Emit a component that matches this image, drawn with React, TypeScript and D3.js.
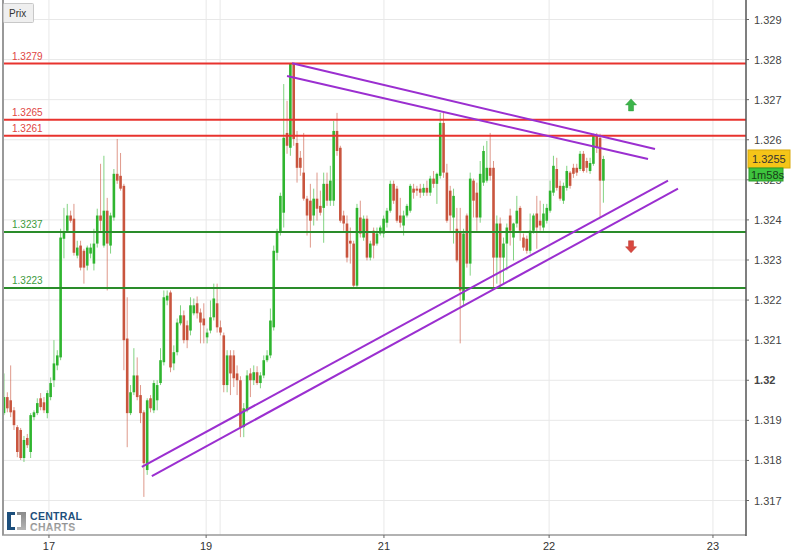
import React from 'react';
import * as d3 from 'd3';

const W = 806;
const H = 555;

// [open, high, low, close]
const candles: [number, number, number, number][] = [
  [1.31918, 1.32017, 1.31913, 1.31958],
  [1.31958, 1.31970, 1.31920, 1.31930],
  [1.31950, 1.32037, 1.31908, 1.31920],
  [1.31925, 1.31933, 1.31876, 1.31888],
  [1.31883, 1.31888, 1.31808, 1.31821],
  [1.31876, 1.31881, 1.31801, 1.31806],
  [1.31806, 1.31861, 1.31796, 1.31851],
  [1.31856, 1.31866, 1.31831, 1.31838],
  [1.31821, 1.31918, 1.31806, 1.31913],
  [1.31908, 1.31925, 1.31900, 1.31920],
  [1.31918, 1.31955, 1.31913, 1.31943],
  [1.31955, 1.31968, 1.31925, 1.31933],
  [1.31945, 1.31958, 1.31918, 1.31925],
  [1.31918, 1.31975, 1.31905, 1.31968],
  [1.31958, 1.32007, 1.31950, 1.31993],
  [1.32000, 1.32100, 1.31983, 1.32042],
  [1.32037, 1.32075, 1.32025, 1.32062],
  [1.32057, 1.32378, 1.32050, 1.32356],
  [1.32353, 1.32430, 1.32304, 1.32371],
  [1.32373, 1.32440, 1.32368, 1.32411],
  [1.32411, 1.32423, 1.32393, 1.32398],
  [1.32403, 1.32440, 1.32311, 1.32318],
  [1.32311, 1.32348, 1.32304, 1.32331],
  [1.32336, 1.32348, 1.32274, 1.32281],
  [1.32323, 1.32328, 1.32241, 1.32281],
  [1.32286, 1.32336, 1.32274, 1.32331],
  [1.32316, 1.32341, 1.32304, 1.32331],
  [1.32291, 1.32378, 1.32274, 1.32341],
  [1.32341, 1.32428, 1.32331, 1.32411],
  [1.32411, 1.32540, 1.32373, 1.32398],
  [1.32336, 1.32560, 1.32331, 1.32423],
  [1.32423, 1.32455, 1.32224, 1.32341],
  [1.32336, 1.32418, 1.32316, 1.32411],
  [1.32406, 1.32527, 1.32398, 1.32515],
  [1.32515, 1.32602, 1.32490, 1.32498],
  [1.32510, 1.32567, 1.32473, 1.32478],
  [1.32485, 1.32490, 1.32025, 1.32100],
  [1.32104, 1.32207, 1.31833, 1.31918],
  [1.31918, 1.31988, 1.31913, 1.31970],
  [1.31970, 1.32080, 1.31963, 1.32012],
  [1.32012, 1.32057, 1.31950, 1.31958],
  [1.31963, 1.31988, 1.31893, 1.31918],
  [1.31920, 1.31925, 1.31709, 1.31793],
  [1.31776, 1.31955, 1.31764, 1.31950],
  [1.31955, 1.31963, 1.31920, 1.31930],
  [1.31925, 1.32000, 1.31918, 1.31993],
  [1.31950, 1.32000, 1.31925, 1.31988],
  [1.31993, 1.32080, 1.31988, 1.32050],
  [1.32045, 1.32224, 1.32037, 1.32207],
  [1.32199, 1.32224, 1.32187, 1.32211],
  [1.32219, 1.32224, 1.32020, 1.32032],
  [1.32042, 1.32087, 1.32025, 1.32070],
  [1.32070, 1.32154, 1.32062, 1.32144],
  [1.32142, 1.32187, 1.32137, 1.32162],
  [1.32162, 1.32174, 1.32092, 1.32100],
  [1.32137, 1.32149, 1.32080, 1.32100],
  [1.32124, 1.32207, 1.32112, 1.32187],
  [1.32167, 1.32204, 1.32162, 1.32187],
  [1.32192, 1.32209, 1.32154, 1.32167],
  [1.32169, 1.32179, 1.32092, 1.32144],
  [1.32154, 1.32192, 1.32092, 1.32137],
  [1.32107, 1.32129, 1.32092, 1.32119],
  [1.32124, 1.32199, 1.32117, 1.32157],
  [1.32157, 1.32241, 1.32149, 1.32204],
  [1.32192, 1.32241, 1.32119, 1.32132],
  [1.32132, 1.32149, 1.32112, 1.32119],
  [1.32112, 1.32119, 1.31970, 1.31988],
  [1.31988, 1.32075, 1.31970, 1.32062],
  [1.32062, 1.32075, 1.31963, 1.32017],
  [1.32062, 1.32075, 1.31983, 1.32005],
  [1.32017, 1.32037, 1.31963, 1.32000],
  [1.32000, 1.32010, 1.31858, 1.31883],
  [1.31883, 1.31943, 1.31858, 1.31930],
  [1.31925, 1.32025, 1.31920, 1.32012],
  [1.32017, 1.32030, 1.31958, 1.32000],
  [1.32000, 1.32037, 1.31988, 1.32020],
  [1.32020, 1.32035, 1.31988, 1.31993],
  [1.31993, 1.32020, 1.31980, 1.32012],
  [1.32012, 1.32062, 1.32005, 1.32050],
  [1.32050, 1.32075, 1.32045, 1.32062],
  [1.32062, 1.32179, 1.32055, 1.32149],
  [1.32132, 1.32336, 1.32124, 1.32323],
  [1.32318, 1.32378, 1.32299, 1.32368],
  [1.32368, 1.32468, 1.32361, 1.32460],
  [1.32418, 1.32739, 1.32381, 1.32605],
  [1.32617, 1.32697, 1.32565, 1.32585],
  [1.32580, 1.32791, 1.32560, 1.32789],
  [1.32789, 1.32791, 1.32585, 1.32602],
  [1.32592, 1.32622, 1.32493, 1.32530],
  [1.32555, 1.32572, 1.32510, 1.32530],
  [1.32518, 1.32617, 1.32448, 1.32453],
  [1.32453, 1.32460, 1.32361, 1.32411],
  [1.32448, 1.32490, 1.32331, 1.32398],
  [1.32411, 1.32478, 1.32386, 1.32453],
  [1.32453, 1.32518, 1.32398, 1.32428],
  [1.32435, 1.32473, 1.32411, 1.32418],
  [1.32430, 1.32518, 1.32343, 1.32490],
  [1.32490, 1.32518, 1.32435, 1.32448],
  [1.32448, 1.32535, 1.32435, 1.32498],
  [1.32448, 1.32647, 1.32435, 1.32622],
  [1.32622, 1.32667, 1.32560, 1.32572],
  [1.32580, 1.32585, 1.32393, 1.32398],
  [1.32411, 1.32423, 1.32373, 1.32391],
  [1.32391, 1.32411, 1.32294, 1.32306],
  [1.32348, 1.32381, 1.32291, 1.32341],
  [1.32341, 1.32348, 1.32231, 1.32236],
  [1.32236, 1.32440, 1.32231, 1.32430],
  [1.32406, 1.32448, 1.32356, 1.32366],
  [1.32356, 1.32411, 1.32348, 1.32403],
  [1.32403, 1.32411, 1.32299, 1.32306],
  [1.32306, 1.32348, 1.32299, 1.32341],
  [1.32373, 1.32381, 1.32304, 1.32336],
  [1.32341, 1.32381, 1.32336, 1.32366],
  [1.32366, 1.32386, 1.32361, 1.32381],
  [1.32366, 1.32411, 1.32356, 1.32403],
  [1.32393, 1.32430, 1.32381, 1.32423],
  [1.32423, 1.32498, 1.32418, 1.32490],
  [1.32490, 1.32498, 1.32440, 1.32448],
  [1.32478, 1.32485, 1.32393, 1.32398],
  [1.32411, 1.32455, 1.32381, 1.32393],
  [1.32386, 1.32423, 1.32361, 1.32411],
  [1.32411, 1.32440, 1.32406, 1.32435],
  [1.32423, 1.32490, 1.32418, 1.32485],
  [1.32478, 1.32490, 1.32453, 1.32468],
  [1.32478, 1.32485, 1.32460, 1.32473],
  [1.32478, 1.32490, 1.32455, 1.32468],
  [1.32468, 1.32490, 1.32460, 1.32480],
  [1.32480, 1.32498, 1.32460, 1.32468],
  [1.32468, 1.32510, 1.32460, 1.32503],
  [1.32503, 1.32522, 1.32480, 1.32490],
  [1.32490, 1.32518, 1.32440, 1.32515],
  [1.32510, 1.32667, 1.32503, 1.32642],
  [1.32642, 1.32667, 1.32505, 1.32518],
  [1.32518, 1.32540, 1.32393, 1.32398],
  [1.32473, 1.32485, 1.32373, 1.32411],
  [1.32406, 1.32478, 1.32341, 1.32460],
  [1.32378, 1.32430, 1.32294, 1.32299],
  [1.32368, 1.32430, 1.32092, 1.32224],
  [1.32199, 1.32378, 1.32187, 1.32366],
  [1.32411, 1.32416, 1.32281, 1.32291],
  [1.32291, 1.32518, 1.32261, 1.32503],
  [1.32498, 1.32503, 1.32406, 1.32448],
  [1.32468, 1.32493, 1.32373, 1.32406],
  [1.32406, 1.32547, 1.32393, 1.32515],
  [1.32493, 1.32585, 1.32485, 1.32572],
  [1.32498, 1.32597, 1.32493, 1.32530],
  [1.32530, 1.32617, 1.32498, 1.32510],
  [1.32530, 1.32547, 1.32231, 1.32306],
  [1.32306, 1.32411, 1.32241, 1.32391],
  [1.32391, 1.32406, 1.32231, 1.32306],
  [1.32306, 1.32356, 1.32241, 1.32341],
  [1.32341, 1.32391, 1.32274, 1.32381],
  [1.32411, 1.32428, 1.32336, 1.32373],
  [1.32356, 1.32393, 1.32299, 1.32391],
  [1.32391, 1.32460, 1.32381, 1.32423],
  [1.32430, 1.32435, 1.32348, 1.32373],
  [1.32356, 1.32366, 1.32323, 1.32331],
  [1.32353, 1.32361, 1.32316, 1.32323],
  [1.32323, 1.32416, 1.32316, 1.32373],
  [1.32373, 1.32416, 1.32366, 1.32411],
  [1.32416, 1.32460, 1.32328, 1.32381],
  [1.32398, 1.32448, 1.32373, 1.32386],
  [1.32381, 1.32440, 1.32373, 1.32416],
  [1.32398, 1.32440, 1.32391, 1.32430],
  [1.32423, 1.32498, 1.32418, 1.32473],
  [1.32468, 1.32560, 1.32460, 1.32535],
  [1.32527, 1.32555, 1.32473, 1.32480],
  [1.32485, 1.32498, 1.32448, 1.32453],
  [1.32448, 1.32493, 1.32440, 1.32485],
  [1.32480, 1.32535, 1.32473, 1.32522],
  [1.32518, 1.32522, 1.32478, 1.32485],
  [1.32530, 1.32540, 1.32505, 1.32515],
  [1.32530, 1.32540, 1.32510, 1.32518],
  [1.32527, 1.32572, 1.32522, 1.32565],
  [1.32565, 1.32572, 1.32518, 1.32522],
  [1.32547, 1.32555, 1.32518, 1.32530],
  [1.32522, 1.32555, 1.32515, 1.32542],
  [1.32540, 1.32615, 1.32535, 1.32610],
  [1.32610, 1.32617, 1.32567, 1.32580],
  [1.32605, 1.32615, 1.32406, 1.32498],
  [1.32498, 1.32560, 1.32443, 1.32552],
];

const yTickValues = [1.317, 1.318, 1.319, 1.32, 1.321, 1.322, 1.323, 1.324, 1.325, 1.326, 1.327, 1.328, 1.329];
const xTickLabels = ['17', '19', '21', '22', '23'];
const xTickIndex = [13.5, 60.7, 114.1, 163.7, 212.9];
const extraGridIndex = [64.9];

const resistanceLevels = [1.3279, 1.3265, 1.3261];
const supportLevels = [1.3237, 1.3223];

// trend lines: [[index, price], [index, price]]
const trendLines: [number, number][][] = [
  [[86.5, 1.32791], [195.5, 1.32577]],
  [[85.0, 1.32759], [193.4, 1.32552]],
  [[41.4, 1.31784], [199.4, 1.32498]],
  [[44.4, 1.31761], [202.4, 1.32478]],
];

const upArrow: [number, number] = [188.3, 1.32687];
const downArrow: [number, number] = [188.3, 1.32333];
const lastPriceLabel = '1.3255';
const countdownLabel = '1m58s';

const FONT = '"Liberation Sans", Arial, sans-serif';

export default function App() {
  const x = d3.scaleLinear().domain([0, 180]).range([4, 603.4]);
  const y = d3.scaleLinear().domain([1.317, 1.329]).range([500.5, 19.5]);
  const plotRight = 746;
  const plotBottom = 535;
  const plotLeft = 3;
  const bodyW = 2.6;
  const green = '#2fb52f';
  const red = '#c9553e';
  const last = candles[candles.length - 1][3];
  const lastY = y(last);
  const line = d3.line<[number, number]>().x(d => x(d[0])).y(d => y(d[1]));

  const fmt = (v: number) => String(+v.toFixed(3));

  return (
    <svg width={W} height={H} style={{ position: 'absolute', left: 0, top: 0, background: '#fff' }} fontFamily={FONT}>
      <defs>
        <linearGradient id="chartsGrad" x1="0" y1="0" x2="0" y2="1">
          <stop offset="0" stopColor="#8a8a8a" />
          <stop offset="1" stopColor="#b5b5b5" />
        </linearGradient>
      </defs>
      <rect x={0} y={0} width={W} height={H} fill="#fff" />
      {/* grid */}
      {yTickValues.map((v, i) => (
        <line key={'gy' + i} x1={plotLeft} x2={plotRight} y1={y(v)} y2={y(v)} stroke="#e8e8e8" strokeWidth={1} />
      ))}
      {xTickIndex.concat(extraGridIndex).map((t, i) => (
        <line key={'gx' + i} x1={x(t)} x2={x(t)} y1={0} y2={plotBottom} stroke="#e8e8e8" strokeWidth={1} />
      ))}

      {/* candles */}
      {candles.map((c, i) => {
        const [o, h, l, cl] = c;
        const up = cl >= o;
        const col = up ? green : red;
        const cx = x(i);
        const top = y(Math.max(o, cl));
        const bot = y(Math.min(o, cl));
        return (
          <g key={'c' + i}>
            <line x1={cx} x2={cx} y1={y(h)} y2={y(l)} stroke={col} strokeOpacity={0.6} strokeWidth={1} />
            <rect x={cx - bodyW / 2} y={top} width={bodyW} height={Math.max(1, bot - top)} fill={col} />
          </g>
        );
      })}

      {/* horizontal levels */}
      {resistanceLevels.map((v, i) => (
        <g key={'r' + i}>
          <line x1={plotLeft} x2={plotRight} y1={y(v)} y2={y(v)} stroke="#e8332e" strokeWidth={2} />
          <text x={12} y={y(v) - 4} fontSize={10} fill="#e0463f">{v.toFixed(4)}</text>
        </g>
      ))}
      {supportLevels.map((v, i) => (
        <g key={'s' + i}>
          <line x1={plotLeft} x2={plotRight} y1={y(v)} y2={y(v)} stroke="#2a8c2a" strokeWidth={2} />
          <text x={12} y={y(v) - 4} fontSize={10} fill="#3c9a3c">{v.toFixed(4)}</text>
        </g>
      ))}

      {/* trend lines */}
      {trendLines.map((t, i) => (
        <path key={'t' + i} d={line(t as [number, number][]) || ''} stroke="#9b2fd0" strokeWidth={2} fill="none" />
      ))}

      {/* arrows */}
      <g transform={`translate(${x(upArrow[0])},${y(upArrow[1])})`}>
        <path d="M-5.5,0 L0,-6 L5.5,0 L2.5,0 L2.5,6 L-2.5,6 L-2.5,0 Z" fill="#3cb54a" stroke="#2e9a3a" strokeWidth={0.5} />
      </g>
      <g transform={`translate(${x(downArrow[0])},${y(downArrow[1])})`}>
        <path d="M-5.5,0 L0,6 L5.5,0 L2.5,0 L2.5,-6 L-2.5,-6 L-2.5,0 Z" fill="#d9473f" stroke="#b8362f" strokeWidth={0.5} />
      </g>

      {/* borders / axes */}
      <line x1={plotLeft} x2={plotLeft} y1={0} y2={plotBottom} stroke="#999" strokeWidth={2} />
      <line x1={plotLeft - 1} x2={plotRight} y1={plotBottom} y2={plotBottom} stroke="#999" strokeWidth={1.5} />
      <line x1={plotRight} x2={plotRight} y1={0} y2={plotBottom + 1} stroke="#555" strokeWidth={1.5} />

      {/* y axis ticks */}
      {yTickValues.map((v, i) => (
        <g key={'yt' + i}>
          <line x1={plotRight} x2={plotRight + 3} y1={y(v)} y2={y(v)} stroke="#666" />
          <text x={754} y={y(v) + 4} fontSize={11} fill="#444" fontWeight={Math.abs(v - 1.32) < 1e-9 ? 'bold' : 'normal'}>{fmt(v)}</text>
        </g>
      ))}

      {/* x axis ticks */}
      {xTickIndex.map((t, i) => (
        <g key={'xt' + i}>
          <line x1={x(t)} x2={x(t)} y1={plotBottom} y2={plotBottom + 3} stroke="#666" />
          <text x={x(t)} y={550} fontSize={11} fill="#333" textAnchor="middle">{xTickLabels[i]}</text>
        </g>
      ))}

      {/* last price tag */}
      <rect x={748} y={lastY - 9} width={42} height={18} fill="#f5c518" stroke="#d9a90c" strokeWidth={1} />
      <text x={752} y={lastY + 4} fontSize={11} fill="#333">{lastPriceLabel}</text>
      <rect x={749} y={lastY + 9} width={34} height={13} fill="#3ec43e" stroke="#2c9c2c" strokeWidth={1} />
      <text x={751} y={lastY + 20} fontSize={11} fill="#173d17">{countdownLabel}</text>

      {/* Prix button */}
      <rect x={3.5} y={3.5} width={30} height={19} fill="#efefef" stroke="#c8c8c8" rx={1} />
      <text x={9} y={17} fontSize={10} fill="#333">Prix</text>

      {/* logo */}
      <path d="M7,512 H15 V515 H11 V527 H15 V530 H7 Z" fill="#1d4f7c" />
      <path d="M17,512 H26 V530 H17 V527 H21 V515 H17 Z" fill="url(#chartsGrad)" />
      <text x={30} y={520} fontSize={10.5} fontWeight="bold" fill="#1d4f7c" letterSpacing={0.3}>CENTRAL</text>
      <text x={30} y={531} fontSize={10.5} fontWeight="bold" fill="url(#chartsGrad)" letterSpacing={0.3}>CHARTS</text>
    </svg>
  );
}
